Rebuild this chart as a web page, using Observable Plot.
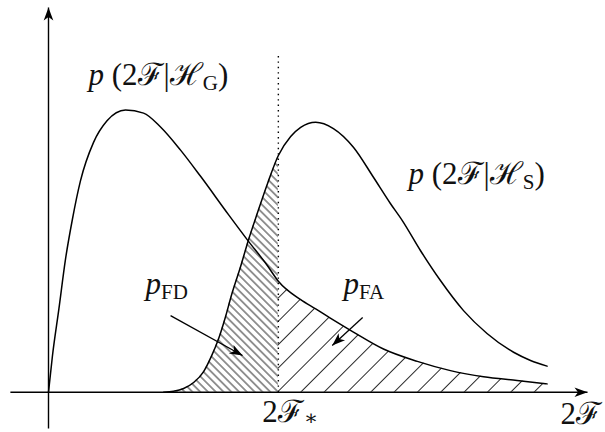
<!DOCTYPE html>
<html>
<head>
<meta charset="utf-8">
<script src="https://cdn.jsdelivr.net/npm/d3@7"></script>
<script src="https://cdn.jsdelivr.net/npm/@observablehq/plot@0.6"></script>
<style>
  body { margin: 0; background: #fff; }
  #chart { width: 605px; height: 432px; overflow: hidden; }
</style>
</head>
<body>
<div id="chart"></div>
<script>
// Detection statistic 2F and its density under the Gaussian-noise hypothesis H_G
const gaussX = [0, 0.10, 0.27, 0.44, 0.62, 0.83, 1.17, 1.52, 2.00, 2.47, 2.91, 3.43, 3.95, 4.68,
                5.19, 5.66, 5.97, 6.55, 6.94, 7.32, 7.92, 8.70, 9.58, 10.44, 11.30, 12.17, 12.95];
const gaussY = [0, 0.023, 0.054, 0.086, 0.112, 0.137, 0.162, 0.176, 0.183, 0.181, 0.172, 0.157, 0.140, 0.115,
                0.098, 0.083, 0.072, 0.060, 0.054, 0.048, 0.039, 0.028, 0.020, 0.014, 0.010, 0.0076, 0.0054];

// Density of 2F under the signal hypothesis H_S
const signalX = [2.99, 3.25, 3.51, 3.77, 4.03, 4.23, 4.42, 4.60, 4.75, 4.99, 5.19, 5.43, 5.69, 5.97, 6.29,
                 6.55, 6.94, 7.40, 7.92, 8.44, 8.88, 9.19, 9.66, 10.18, 10.78, 11.39, 12.08, 12.52, 12.95];
const signalY = [0, 0.0006, 0.0024, 0.0063, 0.0134, 0.0232, 0.0348, 0.0491, 0.0627, 0.0815, 0.0984, 0.1165,
                 0.1354, 0.1535, 0.1658, 0.1717, 0.1751, 0.1710, 0.1589, 0.1394, 0.1224, 0.1113, 0.0919,
                 0.0724, 0.0529, 0.0381, 0.0259, 0.0206, 0.0169];

// Detection threshold 2F_*
const threshold = 5.97;

// Label pieces: [text, kind] with kind "i" = italic, "r" = upright, "s" = subscript
const labelPieces = [
  [["p", "i"], [" (2ℱ|ℋ", "r"], ["G", "s"], [")", "r"]],
  [["p", "i"], [" (2ℱ|ℋ", "r"], ["S", "s"], [")", "r"]],
  [["p", "i"], ["FD", "s"]],
  [["p", "i"], ["FA", "s"]],
  [["2ℱ", "r"], ["∗", "s"]],
  [["2ℱ", "r"]]
];
const labelX = [1.04, 9.35, 2.52, 7.66, 5.55, 13.30];
const labelY = [0.1989, 0.1353, 0.0634, 0.0634, -0.0196, -0.0209];

// Arrows pointing at the two error areas: tail and head
const arrowFrom = [[3.17, 0.0497], [8.16, 0.0484]];
const arrowTo   = [[5.04, 0.0238], [7.37, 0.0303]];

// Extent of the axes and of the dotted threshold line
const xAxisSpan = [-0.99, 14.0];
const yAxisSpan = [-0.0236, 0.2495];
const thresholdTop = 0.2196;

// ---- scales ----
const xDomain = [0, 13], xRange = [48, 548.5];
const yDomain = [0, 0.18], yRange = [391.7, 114.14];
const sx = d3.scaleLinear(xDomain, xRange);
const sy = d3.scaleLinear(yDomain, yRange);

const gauss = gaussX.map((x, i) => ({x, y: gaussY[i]}));
const signal = signalX.map((x, i) => ({x, y: signalY[i]}));
const fdRegion = signal.filter(d => d.x <= threshold);   // false dismissal
const faRegion = gauss.filter(d => d.x >= threshold);    // false alarm

const axes = [
  {x1: xAxisSpan[0], y1: 0, x2: xAxisSpan[1], y2: 0},
  {x1: 0, y1: yAxisSpan[0], x2: 0, y2: yAxisSpan[1]}
];
const pointers = arrowFrom.map((f, i) => ({x1: f[0], y1: f[1], x2: arrowTo[i][0], y2: arrowTo[i][1]}));

// rotation (degrees) of an arrowhead drawn pointing up
const angleOf = (x1, y1, x2, y2) =>
  Math.atan2(sy(y2) - sy(y1), sx(x2) - sx(x1)) * 180 / Math.PI + 90;

const heads = [
  {x: xAxisSpan[1], y: 0, rot: 90},
  {x: 0, y: yAxisSpan[1], rot: 0},
  ...pointers.map(p => ({x: p.x2, y: p.y2, rot: angleOf(p.x1, p.y1, p.x2, p.y2)}))
];

// stealth-style arrowhead with its tip at the origin
const stealth = {
  draw(ctx) {
    ctx.moveTo(0, 0);
    ctx.lineTo(-4.8, 13);
    ctx.lineTo(0, 9.5);
    ctx.lineTo(4.8, 13);
    ctx.closePath();
  }
};

// ---- label layout ----
const family = "'Liberation Serif', 'DejaVu Serif', serif";
const mainSize = 31, subSize = 21;
const ctx2d = document.createElement("canvas").getContext("2d");
const fontFor = kind => `${kind === "i" ? "italic " : ""}${kind === "s" ? subSize : mainSize}px ${family}`;
const textMarks = [];
labelPieces.forEach((pieces, li) => {
  let offset = 0;
  pieces.forEach(([t, kind]) => {
    ctx2d.font = fontFor(kind);
    textMarks.push(Plot.text([{x: labelX[li], y: labelY[li], t}], {
      x: "x", y: "y", text: "t",
      dx: offset, dy: kind === "s" ? (t === "∗" ? 3 : 5) : 0,
      textAnchor: "start", lineAnchor: "bottom",
      fontFamily: family,
      fontSize: kind === "s" ? subSize : mainSize,
      fontStyle: kind === "i" ? "italic" : "normal",
      fill: "#111"
    }));
    offset += ctx2d.measureText(t).width;
  });
});

const plot = Plot.plot({
  width: 605,
  height: 432,
  margin: 0,
  x: {domain: xDomain, range: xRange, axis: null},
  y: {domain: yDomain, range: yRange, axis: null},
  style: {background: "white", overflow: "hidden"},
  marks: [
    Plot.areaY(fdRegion, {x: "x", y: "y", fill: "url(#hatch-fd)", curve: "monotone-x"}),
    Plot.areaY(faRegion, {x: "x", y: "y", fill: "url(#hatch-fa)", curve: "monotone-x"}),
    Plot.link([{x1: threshold, y1: 0, x2: threshold, y2: thresholdTop}], {
      x1: "x1", y1: "y1", x2: "x2", y2: "y2",
      stroke: "black", strokeWidth: 1.4, strokeDasharray: "1.4,4"
    }),
    Plot.line(gauss, {x: "x", y: "y", curve: "monotone-x", stroke: "black", strokeWidth: 1.5}),
    Plot.line(signal, {x: "x", y: "y", curve: "monotone-x", stroke: "black", strokeWidth: 1.5}),
    Plot.link(axes, {x1: "x1", y1: "y1", x2: "x2", y2: "y2", stroke: "black", strokeWidth: 1.4}),
    Plot.link(pointers, {x1: "x1", y1: "y1", x2: "x2", y2: "y2", stroke: "black", strokeWidth: 1.3}),
    Plot.dot(heads, {x: "x", y: "y", rotate: "rot", symbol: stealth, r: 6, fill: "black", stroke: "none"}),
    ...textMarks
  ]
});

// diagonal hatching, phased so both sets of lines meet on the threshold at the baseline
const defs = d3.select(plot).insert("defs", ":first-child");
function hatch(id, spacing, angle) {
  defs.append("pattern")
      .attr("id", id)
      .attr("patternUnits", "userSpaceOnUse")
      .attr("width", 12)
      .attr("height", spacing)
      .attr("patternTransform",
            `translate(${sx(threshold)},${sy(0)}) rotate(${angle}) translate(0,${-spacing / 2})`)
    .append("line")
      .attr("x1", -1).attr("x2", 13)
      .attr("y1", spacing / 2).attr("y2", spacing / 2)
      .attr("stroke", "black")
      .attr("stroke-width", 0.85);
}
hatch("hatch-fd", 5.5, 45);
hatch("hatch-fa", 16.5, -45);

document.getElementById("chart").appendChild(plot);
</script>
</body>
</html>
